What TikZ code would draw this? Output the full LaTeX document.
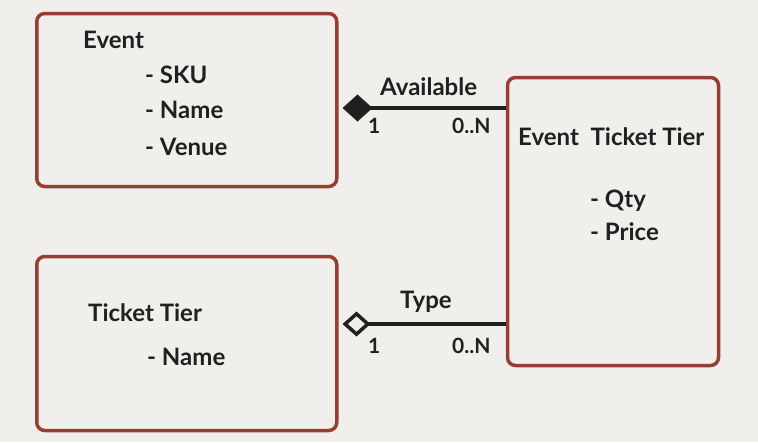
\documentclass[tikz,border=0pt]{standalone}
\usepackage{fontspec}
\setmainfont{Lato}
\definecolor{boxred}{RGB}{150, 62, 52}
\definecolor{paper}{RGB}{241, 239, 236}
\definecolor{ink}{RGB}{32, 32, 32}
\usetikzlibrary{arrows.meta, positioning}

\begin{document}
\begin{tikzpicture}[x=1pt, y=-1pt,
  entity/.style={draw=boxred, line width=3.5pt, rounded corners=8pt, fill=paper, inner sep=0pt},
  txt/.style={text=ink, inner sep=0pt, anchor=base west, font=\fontsize{24}{28}\selectfont\bfseries},
  card/.style={text=ink, inner sep=0pt, anchor=base west, font=\fontsize{21}{24}\selectfont\bfseries},
  link/.style={draw=ink, line width=3.5pt, shorten <=4pt}]
  \fill[paper] (0,0) rectangle (758,442);
  \useasboundingbox (0,0) rectangle (758,442);

  \node[entity, minimum width=300pt, minimum height=173pt] (event) at (186.75,100) {};
  \node[entity, minimum width=300pt, minimum height=174pt] (tier) at (186.75,343.5) {};
  \node[entity, minimum width=211pt, minimum height=288pt] (ett) at (613,221.5) {};

  \node[txt] (eventname) at (83,48) {Event};
  \node[txt] (eventsku) at (145,83) {- SKU};
  \node[txt] (eventnm) at (145,118) {- Name};
  \node[txt] (eventvenue) at (145,155) {- Venue};

  \node[txt] (tiername) at (88,321) {Ticket Tier};
  \node[txt] (tiernm) at (147,365) {- Name};

  \node[txt] (ettname) at (518,145) {Event\ \ Ticket Tier};
  \node[txt] (ettqty) at (590,207) {- Qty};
  \node[txt] (ettprice) at (590,240) {- Price};

  \coordinate (availrow) at (0,108);
  \coordinate (typerow) at (0,324);
  \draw[link, {Diamond[length=30pt, width=27pt]}-] (event.east |- availrow) -- (ett.west |- availrow);
  \draw[link, {Diamond[open, fill=paper, length=28pt, width=25pt]}-] (tier.east |- typerow) -- (ett.west |- typerow);

  \node[txt] (availlbl) at (380,95) {Available};
  \node[card] (availone) at (368,133) {1};
  \node[card] (availmany) at (452,133) {0..N};
  \node[txt] (typelbl) at (400,308) {Type};
  \node[card] (typeone) at (368,353) {1};
  \node[card] (typemany) at (452,353) {0..N};
\end{tikzpicture}
\end{document}
